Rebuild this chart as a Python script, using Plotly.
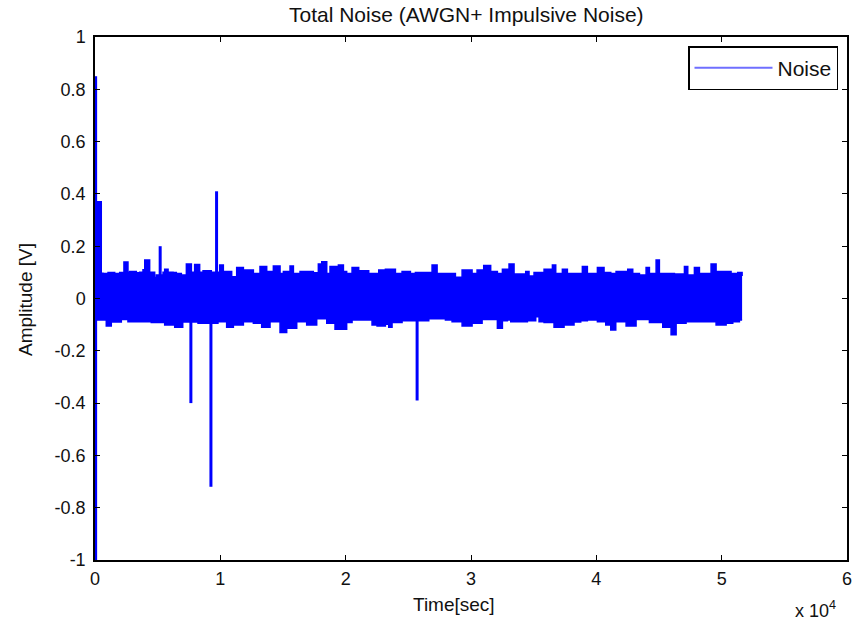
import plotly.graph_objects as go

# ---- data (time in seconds, amplitude in volts) ----
upper_t = [0, 500, 640, 1040, 1570, 1970, 2310, 2630, 2770, 3300, 3560, 3830, 3970, 4360, 4760,
           4900, 5430, 5560, 5830, 6230, 6490, 6890, 7290, 7690, 7950, 8350, 8620, 9280, 9950,
           10240, 10905, 11305, 11840, 12635, 13165, 13700, 14230, 14765, 15030, 15560, 15830,
           16360, 16890, 17420, 17820, 18090, 18490, 18750, 19420, 19820, 20080, 20510, 21040,
           21840, 22640, 23170, 23970, 24500, 25165, 25565, 26895, 27295, 28225, 28755, 29290,
           30085, 30485, 31015, 31570, 32105, 32505, 33035, 33435, 34365, 34630, 35030, 35830,
           36495, 36760, 37290, 37690, 38885, 39285, 40085, 40615, 41150, 41575, 42505, 42905,
           43440, 43970, 44235, 44770, 45030, 46230, 47030, 47295, 47825, 48225, 49155, 49555,
           50220, 50750, 51285, 51630]
upper_v = [0.37, 0.097, 0.096, 0.099, 0.096, 0.099, 0.14, 0.10, 0.103, 0.098, 0.10, 0.11, 0.147,
           0.10, 0.08, 0.09, 0.10, 0.112, 0.10, 0.099, 0.096, 0.09, 0.132, 0.10, 0.13, 0.10,
           0.106, 0.10, 0.128, 0.103, 0.083, 0.119, 0.109, 0.096, 0.122, 0.103, 0.124, 0.096,
           0.103, 0.124, 0.096, 0.103, 0.103, 0.098, 0.132, 0.141, 0.096, 0.122, 0.128, 0.103,
           0.096, 0.119, 0.106, 0.096, 0.109, 0.112, 0.096, 0.103, 0.096, 0.099, 0.128, 0.096,
           0.096, 0.081, 0.109, 0.096, 0.109, 0.126, 0.103, 0.096, 0.112, 0.132, 0.094, 0.103,
           0.086, 0.099, 0.112, 0.128, 0.096, 0.112, 0.096, 0.122, 0.096, 0.119, 0.099, 0.096,
           0.103, 0.112, 0.096, 0.09, 0.119, 0.096, 0.147, 0.096, 0.094, 0.122, 0.09, 0.119,
           0.096, 0.132, 0.103, 0.103, 0.096, 0.099, 0.086]

lower_t = [0, 900, 1300, 2100, 2630, 4490, 5560, 6360, 7000, 8220, 9810, 10505, 11040, 11840,
           12635, 13300, 13965, 14765, 15295, 16095, 16890, 17690, 18490, 19150, 20080, 20510,
           22105, 22505, 23170, 23435, 23700, 24500, 26630, 27960, 28490, 29290, 30085, 30885,
           32105, 32505, 32900, 33170, 34500, 35165, 35430, 35830, 36625, 37425, 38220, 38755,
           39285, 40085, 40750, 41150, 41550, 42375, 43170, 44235, 45300, 45965, 46365, 47160,
           48490, 49555, 50355, 50885, 51415, 51630]
lower_v = [-0.082, -0.105, -0.09, -0.08, -0.089, -0.092, -0.101, -0.11, -0.09, -0.095, -0.089,
           -0.11, -0.101, -0.089, -0.095, -0.11, -0.089, -0.13, -0.114, -0.089, -0.101, -0.077,
           -0.095, -0.118, -0.092, -0.082, -0.101, -0.105, -0.098, -0.11, -0.092, -0.085, -0.077,
           -0.082, -0.089, -0.105, -0.095, -0.08, -0.114, -0.085, -0.082, -0.089, -0.085, -0.07,
           -0.089, -0.092, -0.11, -0.101, -0.09, -0.085, -0.082, -0.089, -0.101, -0.12, -0.089,
           -0.105, -0.08, -0.092, -0.11, -0.139, -0.095, -0.089, -0.089, -0.101, -0.095, -0.089,
           -0.082, -0.082]

# impulsive spikes
spike_t = [50, 50, 5200, 7650, 9250, 9700, 25700]
spike_v = [0.85, -1.0, 0.2, -0.4, -0.72, 0.41, -0.39]

x_tick_vals = [0, 10000, 20000, 30000, 40000, 50000, 60000]
x_tick_text = ["0", "1", "2", "3", "4", "5", "6"]
y_tick_vals = [-1, -0.8, -0.6, -0.4, -0.2, 0, 0.2, 0.4, 0.6, 0.8, 1]
y_tick_text = ["-1", "-0.8", "-0.6", "-0.4", "-0.2", "0", "0.2", "0.4", "0.6", "0.8", "1"]

BLUE = "#0000ff"
FONT = "Liberation Sans, Arial, sans-serif"
TXT = "#111111"

fig = go.Figure()

# lower envelope of the dense AWGN band
fig.add_trace(go.Scatter(x=lower_t, y=lower_v, mode="lines",
                         line=dict(color=BLUE, width=1.5, shape="hv"),
                         showlegend=False, hoverinfo="skip"))
# upper envelope, filled down to the lower envelope
fig.add_trace(go.Scatter(x=upper_t, y=upper_v, mode="lines",
                         line=dict(color=BLUE, width=1.5, shape="hv"),
                         fill="tonexty", fillcolor=BLUE,
                         showlegend=False, hoverinfo="skip"))

# spikes as vertical strokes from zero
sx, sy = [], []
for t, v in zip(spike_t, spike_v):
    sx += [t, t, None]
    sy += [0, v, None]
fig.add_trace(go.Scatter(x=sx, y=sy, mode="lines",
                         line=dict(color=BLUE, width=3),
                         showlegend=False, hoverinfo="skip"))

# legend entry
fig.add_trace(go.Scatter(x=[None], y=[None], mode="lines", name="Noise",
                         line=dict(color="#6f6fff", width=2)))

axis_common = dict(showgrid=False, zeroline=False, showline=True, linecolor="black",
                   linewidth=1.5, mirror="ticks", ticks="inside", ticklen=5,
                   tickcolor="black", tickwidth=1, automargin=False,
                   tickfont=dict(family=FONT, size=18, color=TXT))

fig.update_xaxes(range=[0, 60000], tickvals=x_tick_vals, ticktext=x_tick_text,
                 ticklabelstandoff=2, **axis_common)
fig.update_yaxes(range=[-1, 1], tickvals=y_tick_vals, ticktext=y_tick_text,
                 ticklabelstandoff=4, **axis_common)

fig.update_layout(
    width=853, height=628,
    margin=dict(l=95, r=6, t=37, b=68, autoexpand=False),
    paper_bgcolor="white", plot_bgcolor="white",
    font=dict(family=FONT, size=18, color=TXT),
    showlegend=True,
    legend=dict(x=(838 - 95) / 752, y=1 - (46 - 37) / 523, xanchor="right", yanchor="top",
                bordercolor="black", borderwidth=1.5, bgcolor="white",
                font=dict(family=FONT, size=21, color=TXT),
                itemwidth=78),
    annotations=[
        dict(text="Total Noise (AWGN+ Impulsive Noise)", xref="paper", yref="paper",
             x=(466 - 95) / 752, y=1 + (37 - 15) / 523, xanchor="center", yanchor="middle",
             showarrow=False, font=dict(family=FONT, size=21, color=TXT)),
        dict(text="Time[sec]", xref="paper", yref="paper",
             x=(454 - 95) / 752, y=-(604 - 560) / 523, xanchor="center", yanchor="middle",
             showarrow=False, font=dict(family=FONT, size=19, color=TXT)),
        dict(text="Amplitude [V]", xref="paper", yref="paper", textangle=-90,
             x=-(95 - 25) / 752, y=(560 - 300) / 523, xanchor="center", yanchor="middle",
             showarrow=False, font=dict(family=FONT, size=19, color=TXT)),
        dict(text="x 10<sup>4</sup>", xref="paper", yref="paper",
             x=(815 - 95) / 752, y=-(609 - 560) / 523, xanchor="center", yanchor="middle",
             showarrow=False, font=dict(family=FONT, size=18, color=TXT)),
    ],
)

fig.write_html("out.html", config={"displayModeBar": False},
               post_script="document.body.style.margin='0px';document.body.style.overflow='hidden';")
